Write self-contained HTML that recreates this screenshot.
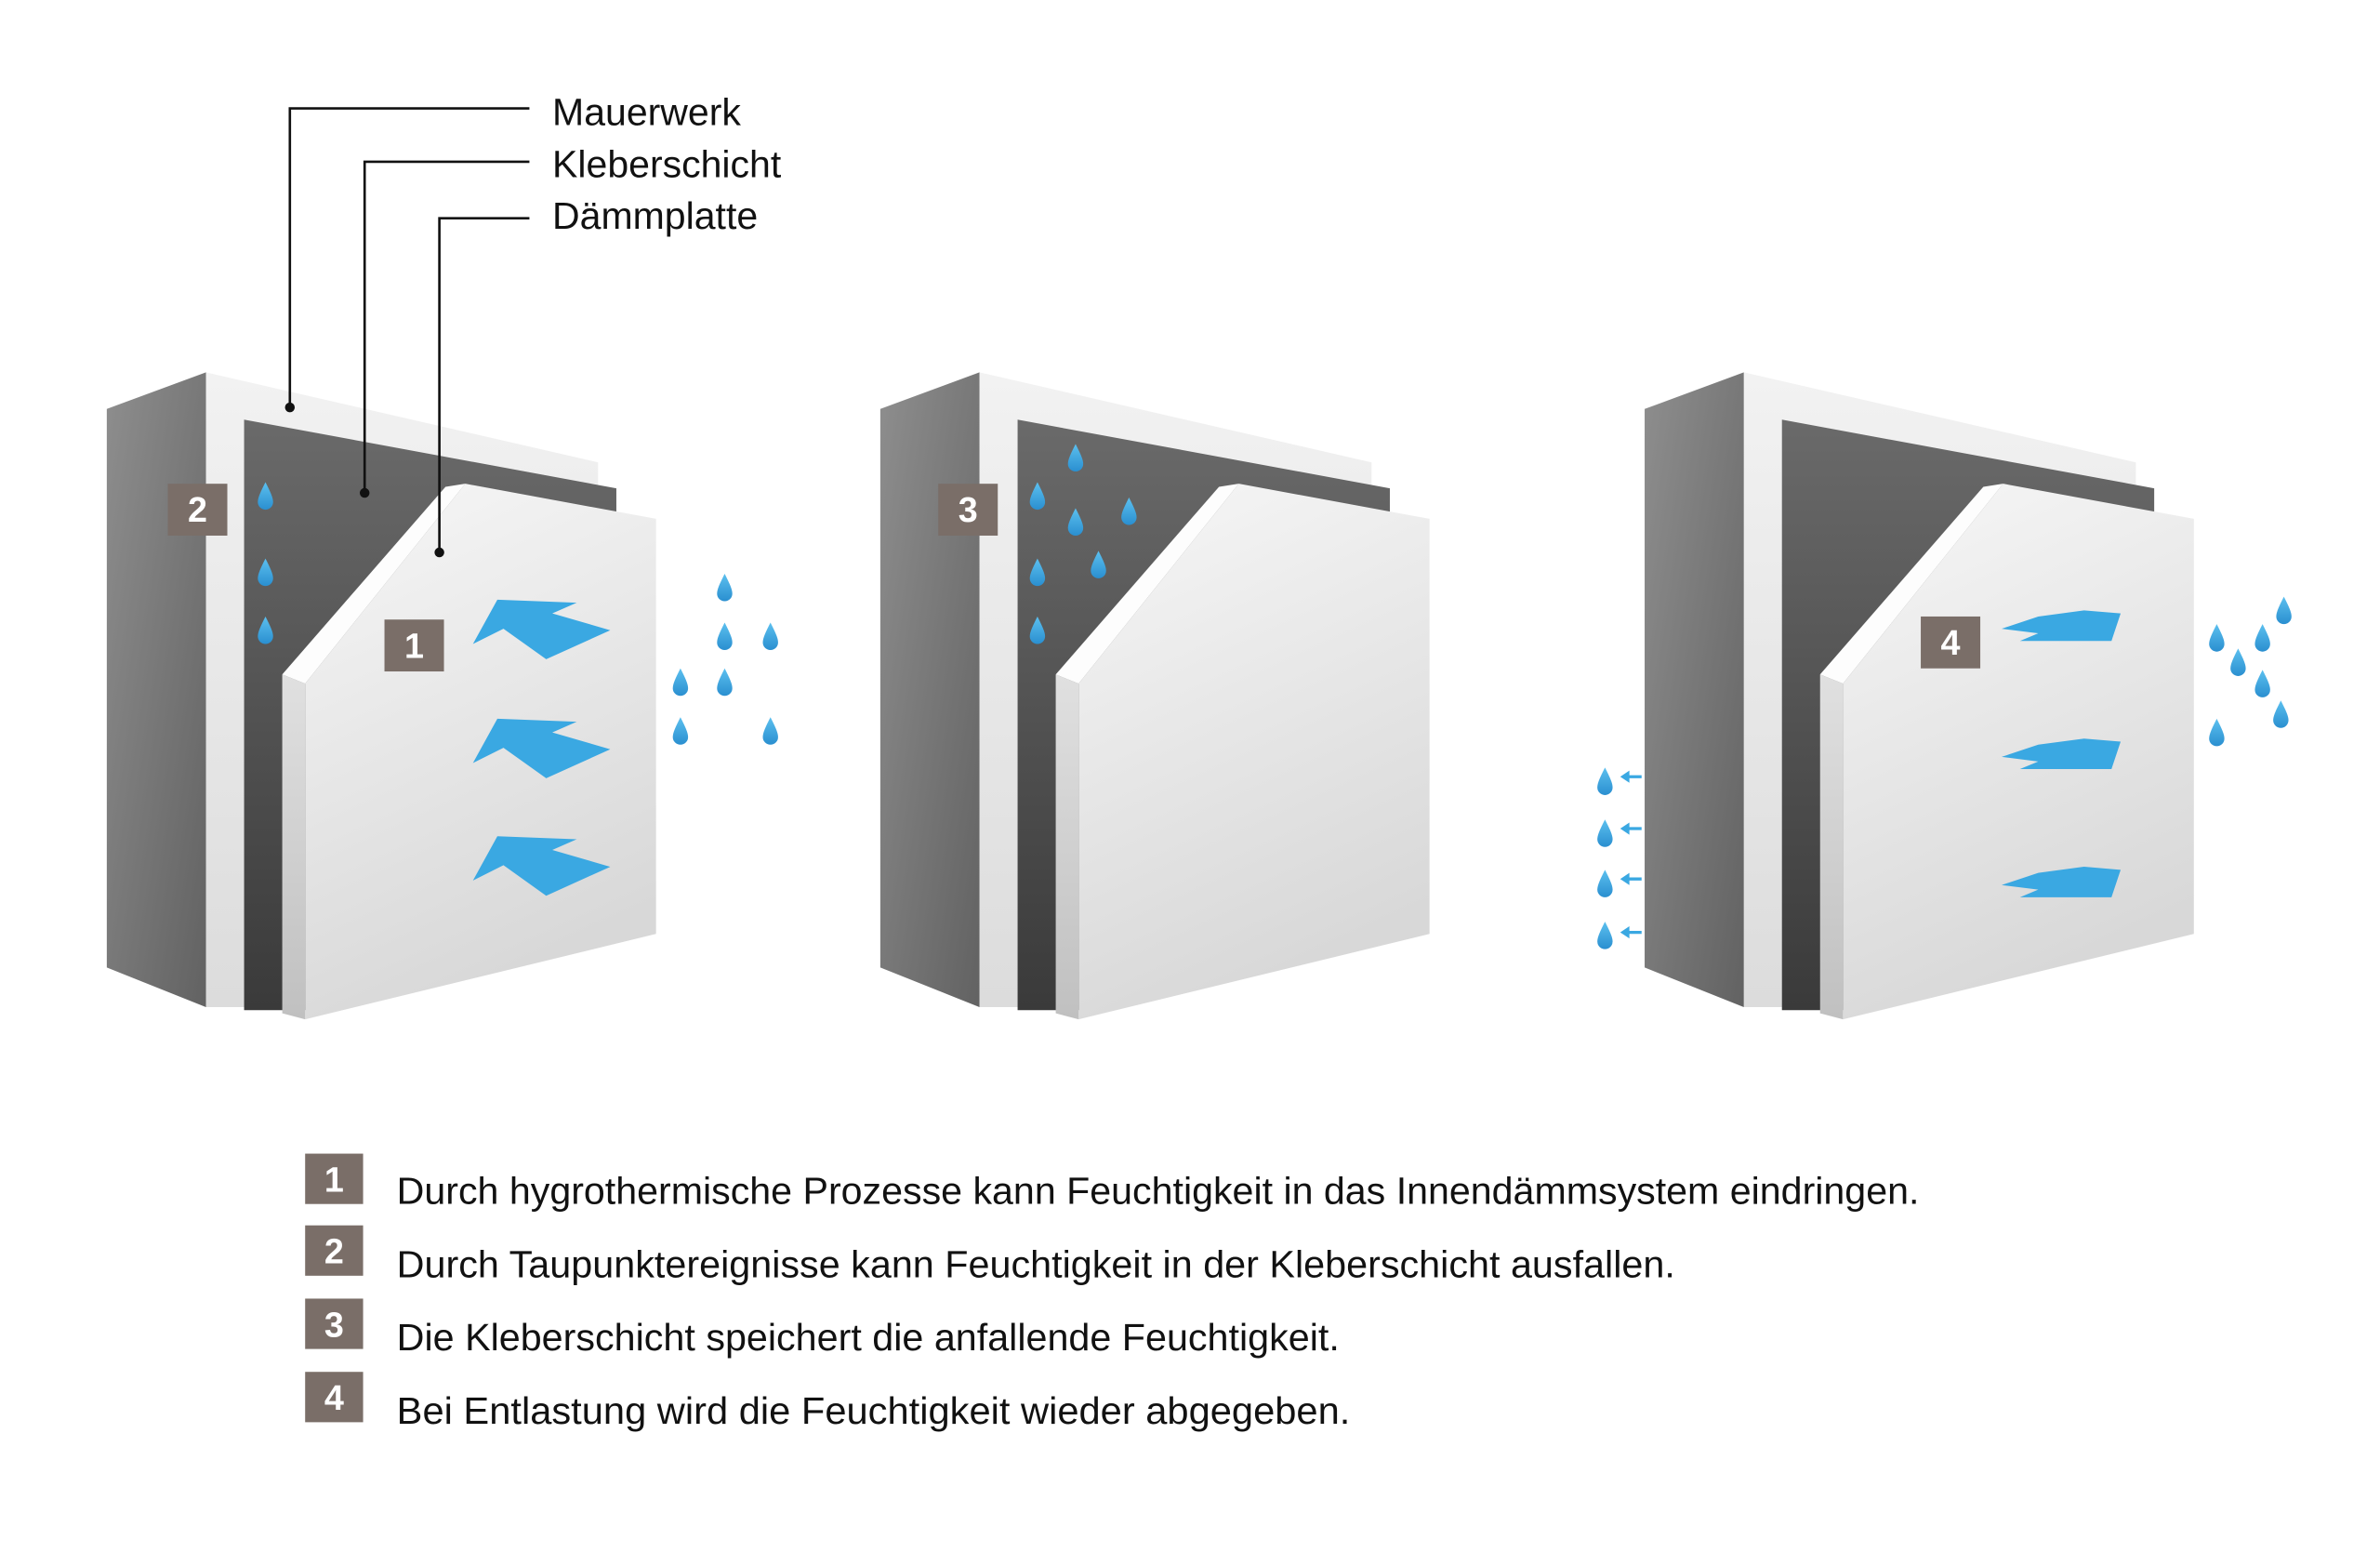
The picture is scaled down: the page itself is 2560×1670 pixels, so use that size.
<!DOCTYPE html>
<html><head><meta charset="utf-8"><style>
html,body{margin:0;padding:0;background:#fff;}
svg{display:block;}
</style></head><body>
<svg width="2560" height="1670" viewBox="0 0 1560 1017.7" preserveAspectRatio="none" xmlns="http://www.w3.org/2000/svg">
<defs>
<linearGradient id="side" x1="0" y1="0" x2="1" y2="1"><stop offset="0" stop-color="#8e8e8e"/><stop offset="1" stop-color="#626262"/></linearGradient>
<linearGradient id="mfront" x1="0" y1="0" x2="0" y2="1"><stop offset="0" stop-color="#f2f2f2"/><stop offset="1" stop-color="#dcdcdc"/></linearGradient>
<linearGradient id="kl" x1="0" y1="0" x2="0" y2="1"><stop offset="0" stop-color="#6a6a6a"/><stop offset="1" stop-color="#3a3a3a"/></linearGradient>
<linearGradient id="dfront" x1="0" y1="0" x2="0.3" y2="1"><stop offset="0" stop-color="#f7f7f7"/><stop offset="1" stop-color="#d8d8d8"/></linearGradient>
<linearGradient id="dside" x1="0" y1="0" x2="0" y2="1"><stop offset="0" stop-color="#e0e0e0"/><stop offset="1" stop-color="#c0c0c0"/></linearGradient>
<linearGradient id="drop" x1="0" y1="0" x2="0" y2="1"><stop offset="0" stop-color="#5cc0ef"/><stop offset="1" stop-color="#2a8fd0"/></linearGradient>
<g id="wall">
 <polygon points="135,244 392,303 392,560 160,660 135,660" fill="url(#mfront)"/>
 <polygon points="70,268 135,244 135,660 70,634" fill="url(#side)"/>
 <polygon points="160,275 404,320 404,560 200,662 160,662" fill="url(#kl)"/>
 <polygon points="200,448 305,317 430,340 430,612 200,668" fill="url(#dfront)"/>
 <polygon points="185,442 200,448 200,668 185,664" fill="url(#dside)"/>
 <polygon points="185,442 292,319 305,317 200,448" fill="#fdfdfd"/>
</g>
<path id="d" d="M0,-9 C3,-3 5,1 5,4 A5,5 0 0 1 -5,4 C-5,1 -3,-3 0,-9Z" fill="url(#drop)"/>
<polygon id="a1" points="310,422 326,393 378,395 362,402 400,413 358,432 330,412" fill="#3aa8e2"/>
<polygon id="a4" points="1312,412 1336,404 1366,400 1390,402 1384,420 1324,420 1336,415" fill="#3aa8e2"/>
</defs>
<use href="#wall"/>
<use href="#wall" x="507"/>
<use href="#wall" x="1008"/>
<g stroke="#111" stroke-width="1.6" fill="none">
<polyline points="347,71 190,71 190,267"/>
<polyline points="347,106 239,106 239,323"/>
<polyline points="347,143 288,143 288,362"/>
</g>
<circle cx="190" cy="267" r="3.2" fill="#111"/><circle cx="239" cy="323" r="3.2" fill="#111"/><circle cx="288" cy="362" r="3.2" fill="#111"/>
<g font-family="Liberation Sans, sans-serif" font-size="25" fill="#111">
<text x="362" y="82">Mauerwerk</text>
<text x="362" y="116">Kleberschicht</text>
<text x="362" y="150">Dämmplatte</text>
</g>
<use href="#a1"/><use href="#a1" y="78"/><use href="#a1" y="155"/>
<use href="#a4"/><use href="#a4" y="84"/><use href="#a4" y="168"/>
<g>
<use href="#d" x="174" y="325"/><use href="#d" x="174" y="375"/><use href="#d" x="174" y="413"/>
<use href="#d" x="475" y="385"/><use href="#d" x="475" y="417"/><use href="#d" x="505" y="417"/><use href="#d" x="446" y="447"/><use href="#d" x="475" y="447"/><use href="#d" x="446" y="479"/><use href="#d" x="505" y="479"/>
<use href="#d" x="705" y="300"/><use href="#d" x="680" y="325"/><use href="#d" x="705" y="342"/><use href="#d" x="740" y="335"/><use href="#d" x="680" y="375"/><use href="#d" x="720" y="370"/><use href="#d" x="680" y="413"/>
<use href="#d" x="1497" y="400"/><use href="#d" x="1453" y="418"/><use href="#d" x="1483" y="418"/><use href="#d" x="1467" y="434"/><use href="#d" x="1483" y="448"/><use href="#d" x="1495" y="468"/><use href="#d" x="1453" y="480"/>
<use href="#d" x="1052" y="512"/><use href="#d" x="1052" y="546"/><use href="#d" x="1052" y="579"/><use href="#d" x="1052" y="613"/>
</g>
<g fill="#3aa8e2">
<polygon points="1062,509 1068,505 1068,508 1076,508 1076,510 1068,510 1068,513"/>
<polygon points="1062,543 1068,539 1068,542 1076,542 1076,544 1068,544 1068,547"/>
<polygon points="1062,576 1068,572 1068,575 1076,575 1076,577 1068,577 1068,580"/>
<polygon points="1062,611 1068,607 1068,610 1076,610 1076,612 1068,612 1068,615"/>
</g>
<g fill="#7a6e68">
<rect x="110" y="317" width="39" height="34"/><rect x="252" y="406" width="39" height="34"/>
<rect x="615" y="317" width="39" height="34"/><rect x="1259" y="404" width="39" height="34"/>
<rect x="200" y="756" width="38" height="33"/><rect x="200" y="803" width="38" height="33"/><rect x="200" y="851" width="38" height="33"/><rect x="200" y="899" width="38" height="33"/>
</g>
<g font-family="Liberation Sans, sans-serif" font-size="23" font-weight="bold" fill="#fff" text-anchor="middle">
<text x="129.5" y="342">2</text><text x="271.5" y="431">1</text><text x="634.5" y="342">3</text><text x="1278.5" y="429">4</text>
<text x="219" y="781">1</text><text x="219" y="828">2</text><text x="219" y="876">3</text><text x="219" y="924">4</text>
</g>
<g font-family="Liberation Sans Narrow, Liberation Sans, sans-serif" font-size="25" fill="#111">
<text x="260" y="789" textLength="998" lengthAdjust="spacingAndGlyphs">Durch hygrothermische Prozesse kann Feuchtigkeit in das Innendämmsystem eindringen.</text>
<text x="260" y="837" textLength="838" lengthAdjust="spacingAndGlyphs">Durch Taupunktereignisse kann Feuchtigkeit in der Kleberschicht ausfallen.</text>
<text x="260" y="885" textLength="618" lengthAdjust="spacingAndGlyphs">Die Kleberschicht speichert die anfallende Feuchtigkeit.</text>
<text x="260" y="933" textLength="625" lengthAdjust="spacingAndGlyphs">Bei Entlastung wird die Feuchtigkeit wieder abgegeben.</text>
</g>
</svg>
</body></html>
